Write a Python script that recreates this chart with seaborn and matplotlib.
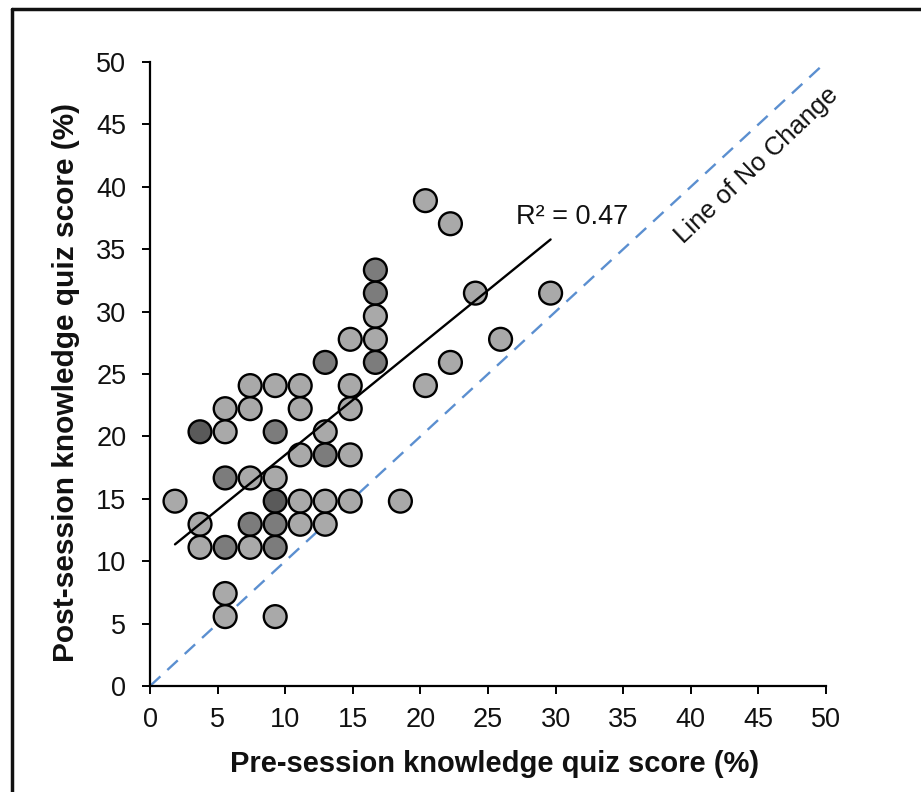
import numpy as np
import pandas as pd
import matplotlib
matplotlib.use("Agg")
import matplotlib.pyplot as plt
import seaborn as sns
from matplotlib.lines import Line2D

# Data: pre-session score (%), post-session score (%), number of overlapping respondents
pre = [1.85, 3.70, 3.70, 3.70, 5.56, 5.56, 5.56, 5.56, 5.56, 5.56,
       7.41, 7.41, 7.41, 7.41, 7.41, 9.26, 9.26, 9.26, 9.26, 9.26,
       9.26, 9.26, 11.11, 11.11, 11.11, 11.11, 11.11, 12.96, 12.96, 12.96,
       12.96, 12.96, 14.81, 14.81, 14.81, 14.81, 14.81, 16.67, 16.67, 16.67,
       16.67, 16.67, 18.52, 20.37, 20.37, 22.22, 22.22, 24.07, 25.93, 29.63]
post = [14.81, 12.96, 11.11, 20.37, 22.22, 20.37, 16.67, 11.11, 7.41, 5.56,
        24.07, 22.22, 16.67, 12.96, 11.11, 24.07, 20.37, 16.67, 14.81, 12.96,
        11.11, 5.56, 24.07, 22.22, 18.52, 14.81, 12.96, 25.93, 20.37, 18.52,
        14.81, 12.96, 27.78, 24.07, 22.22, 18.52, 14.81, 33.33, 31.48, 29.63,
        27.78, 25.93, 14.81, 38.89, 24.07, 37.04, 25.93, 31.48, 27.78, 31.48]
count = [1, 1, 1, 3, 1, 1, 2, 2, 1, 1,
         1, 1, 1, 2, 1, 1, 2, 1, 3, 2,
         2, 1, 1, 1, 1, 1, 1, 2, 1, 2,
         1, 1, 1, 1, 1, 1, 1, 2, 2, 1,
         1, 2, 1, 1, 1, 1, 1, 1, 1, 1]
ticks = [0, 5, 10, 15, 20, 25, 30, 35, 40, 45, 50]
r2_label = "R² = 0.47"
no_change_label = "Line of No Change"
xlabel = "Pre-session knowledge quiz score (%)"
ylabel = "Post-session knowledge quiz score (%)"

df = pd.DataFrame({"pre": pre, "post": post, "n": count})

sns.set_theme(style="white")
plt.rcParams["font.family"] = ["Liberation Sans", "DejaVu Sans"]

fig = plt.figure(figsize=(9.21, 7.92), dpi=100)
ax = fig.add_axes([150 / 921, 1 - 686 / 792, 676 / 921, 624 / 792])

# Line of no change
ax.plot([0, 50], [0, 50], color="#5B8FD0", lw=1.7, dashes=(6, 4), zorder=1)

# Points
palette = {1: "#A9A9A9", 2: "#7C7C7C", 3: "#5A5A5A"}
sns.scatterplot(data=df, x="pre", y="post", hue="n", palette=palette,
                s=270, edgecolor="black", linewidth=1.7, legend=False,
                ax=ax, zorder=3, clip_on=False)

# Trend line (weighted by overlapping respondents)
xs = np.repeat(df["pre"].values, df["n"].values)
ys = np.repeat(df["post"].values, df["n"].values)
m, b = np.polyfit(xs, ys, 1)
x0, x1 = min(pre), max(pre)
ax.plot([x0, x1], [m * x0 + b, m * x1 + b], color="black", lw=1.7, zorder=4)

ax.text(31.2, 37.6, r2_label, fontsize=19.5, ha="center", va="center", color="#111111")
ax.text(44.9, 41.7, no_change_label, fontsize=18.5, ha="center", va="center",
        rotation=43.5, rotation_mode="anchor", color="#111111")

ax.set_xlim(0, 50)
ax.set_ylim(0, 50)
ax.set_xticks(ticks)
ax.set_yticks(ticks)
ax.set_xticklabels([str(t) for t in ticks], fontsize=19.5)
ax.set_yticklabels([str(t) for t in ticks], fontsize=19.5)
ax.tick_params(axis="both", which="both", direction="out", length=6, width=1.4,
               color="black", labelcolor="#111111", bottom=True, left=True)
ax.tick_params(axis="x", pad=9)
ax.tick_params(axis="y", pad=11)
for side in ["top", "right"]:
    ax.spines[side].set_visible(False)
for side in ["left", "bottom"]:
    ax.spines[side].set_color("black")
    ax.spines[side].set_linewidth(1.6)

ax.set_xlabel(xlabel, fontsize=21, fontweight="bold", color="#111111")
ax.set_ylabel(ylabel, fontsize=21.5, fontweight="bold", color="#111111")
ax.xaxis.set_label_coords(0.51, -0.102)
ax.yaxis.set_label_coords(-0.104, 0.487)

# Frame (top and left edges visible)
fig.add_artist(Line2D([12 / 921, 12 / 921], [0, 1 - 9 / 792], transform=fig.transFigure,
                      color="#111111", lw=2.5))
fig.add_artist(Line2D([12 / 921, 1], [1 - 9 / 792, 1 - 9 / 792], transform=fig.transFigure,
                      color="#111111", lw=2.5))

fig.savefig("out.png", dpi=100)
